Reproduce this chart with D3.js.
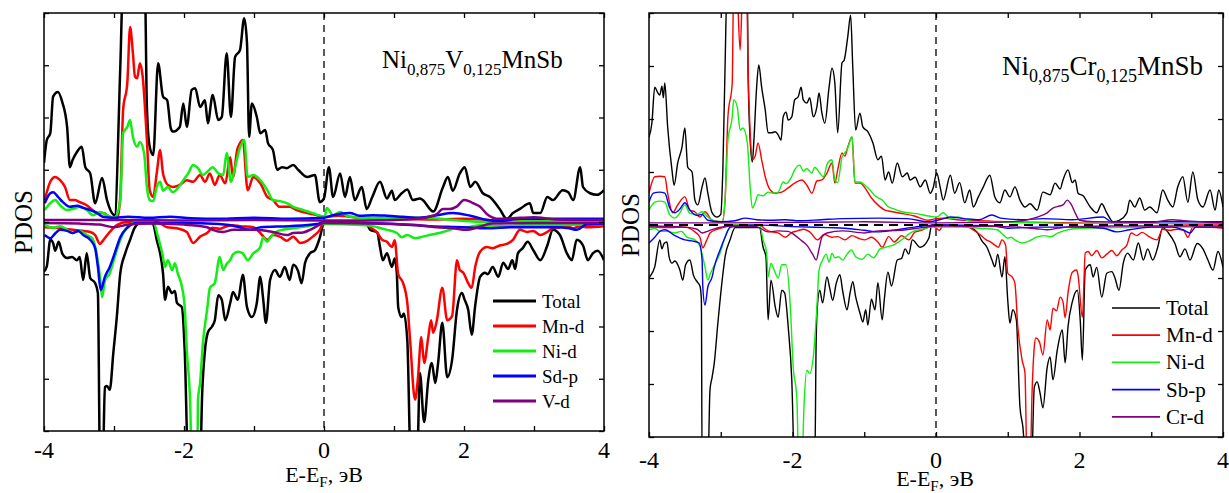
<!DOCTYPE html>
<html>
<head>
<meta charset="utf-8">
<script src="https://cdn.jsdelivr.net/npm/d3@7"></script>
<style>
body { margin: 0; background: #fff; }
text { font-family: "Liberation Serif", "Times New Roman", serif; fill: #000; }
</style>
</head>
<body>
<div id="chart-area"></div>
<script>
/*
*    PDOS of Ni0.875V0.125MnSb and Ni0.875Cr0.125MnSb
*/
// legend names / colours
var namesLeft = ["Total", "Mn-d", "Ni-d", "Sd-p", "V-d"]
var namesRight = ["Total", "Mn-d", "Ni-d", "Sb-p", "Cr-d"]
var colors = ["#000000", "#ff0000", "#11ee11", "#0000ff", "#800080"]
var xMajor = [-4, -2, 0, 2, 4]
var xAll = [-4, -3, -2, -1, 0, 1, 2, 3, 4]
var yAll = [-4, -3, -2, -1, 0, 1, 2, 3, 4]

// ---- left panel, [E, PDOS] ----
var lTotUp = [[-4.00,1.13],[-3.96,1.57],[-3.91,1.70],[-3.87,2.40],[-3.80,2.49],[-3.74,2.30],[-3.67,1.82],[-3.63,1.05],[-3.59,1.19],[-3.53,1.34],[-3.46,1.44],[-3.41,1.05],[-3.34,0.93],[-3.27,0.36],[-3.17,0.84],[-3.10,0.42],[-2.99,0.13],[-2.91,2.97],[-2.87,4.6],[-2.56,4.6],[-2.53,2.2],[-2.49,1.44],[-2.44,1.28],[-2.37,3.04],[-2.30,2.4],[-2.24,2.33],[-2.19,1.8],[-2.16,1.73],[-2.06,1.82],[-2.01,2.27],[-1.96,1.82],[-1.89,2.53],[-1.84,2.56],[-1.77,2.2],[-1.70,2.33],[-1.66,1.89],[-1.59,2.43],[-1.51,1.95],[-1.46,2.01],[-1.39,3.23],[-1.33,2.01],[-1.27,3.16],[-1.20,3.29],[-1.14,3.9],[-1.10,3.42],[-1.07,1.63],[-1.03,2.27],[-0.96,2.01],[-0.91,1.70],[-0.84,1.76],[-0.80,1.51],[-0.73,1.38],[-0.67,1.0],[-0.60,1.05],[-0.53,1.03],[-0.44,1.09],[-0.37,1.0],[-0.24,0.86],[-0.13,0.9],[-0.06,0.38],[0.00,0.45],[0.07,1.05],[0.13,0.48],[0.23,0.93],[0.30,0.48],[0.37,0.86],[0.44,0.42],[0.54,0.67],[0.61,0.25],[0.69,0.48],[0.80,0.77],[0.90,0.45],[0.97,0.6],[1.01,0.42],[1.11,0.55],[1.19,0.62],[1.27,0.42],[1.37,0.45],[1.41,0.42],[1.56,0.2],[1.70,0.67],[1.77,0.86],[1.84,0.6],[1.94,0.93],[2.01,1.05],[2.09,0.67],[2.16,0.77],[2.27,0.55],[2.37,0.48],[2.51,0.25],[2.61,0.06],[2.70,0.17],[2.80,0.25],[2.94,0.36],[2.99,0.17],[3.09,0.17],[3.19,0.48],[3.27,0.42],[3.41,0.61],[3.49,0.57],[3.56,0.42],[3.66,1.05],[3.70,0.67],[3.80,0.55],[3.90,0.52],[4.00,0.61]]
var lTotDn = [[-4.00,-0.95],[-3.96,-0.85],[-3.91,-0.34],[-3.87,-0.4],[-3.84,-0.55],[-3.79,-0.38],[-3.74,-0.6],[-3.67,-0.69],[-3.60,-0.67],[-3.53,-0.73],[-3.49,-0.67],[-3.44,-1.11],[-3.39,-0.6],[-3.34,-1.07],[-3.27,-1.17],[-3.23,-1.36],[-3.20,-4.6],[-3.16,-4.6],[-3.13,-3.16],[-3.10,-3.14],[-3.06,-3.21],[-3.01,-2.51],[-2.96,-1.82],[-2.91,-0.98],[-2.84,-0.6],[-2.77,-0.34],[-2.70,-0.1],[-2.62,-0.02],[-2.45,-0.02],[-2.39,-0.34],[-2.30,-0.98],[-2.27,-1.49],[-2.23,-1.24],[-2.17,-1.36],[-2.13,-1.32],[-2.10,-1.55],[-2.03,-1.63],[-1.99,-2.45],[-1.94,-4.6],[-1.77,-4.6],[-1.74,-3.27],[-1.70,-2.45],[-1.66,-2.12],[-1.60,-2.0],[-1.56,-1.88],[-1.51,-1.4],[-1.46,-1.49],[-1.41,-1.88],[-1.34,-1.55],[-1.30,-1.34],[-1.23,-1.49],[-1.16,-1.01],[-1.10,-1.63],[-1.03,-1.82],[-0.96,-1.55],[-0.91,-1.05],[-0.87,-1.46],[-0.83,-1.93],[-0.77,-1.11],[-0.70,-0.92],[-0.63,-1.05],[-0.56,-0.86],[-0.49,-1.11],[-0.44,-0.82],[-0.37,-0.94],[-0.32,-1.17],[-0.27,-0.78],[-0.20,-0.6],[-0.13,-0.54],[-0.06,-0.3],[0.00,-0.02],[0.60,-0.02],[0.66,-0.15],[0.76,-0.2],[0.80,-0.48],[0.84,-0.73],[0.90,-0.6],[0.97,-0.86],[1.01,-0.7],[1.04,-0.98],[1.06,-1.63],[1.11,-1.82],[1.14,-1.75],[1.19,-2.26],[1.24,-4.6],[1.33,-4.6],[1.37,-2.89],[1.43,-3.83],[1.49,-3.02],[1.54,-2.7],[1.59,-3.08],[1.63,-2.7],[1.69,-1.93],[1.76,-2.97],[1.83,-2.64],[1.90,-1.68],[1.97,-1.36],[2.01,-1.49],[2.06,-1.68],[2.11,-2.16],[2.16,-1.6],[2.23,-1.05],[2.30,-0.97],[2.34,-1.0],[2.41,-0.86],[2.49,-1.05],[2.56,-0.78],[2.63,-0.9],[2.69,-0.73],[2.73,-0.9],[2.77,-0.6],[2.84,-0.5],[2.91,-0.38],[2.99,-0.54],[3.09,-0.73],[3.19,-0.45],[3.27,-0.15],[3.37,-0.25],[3.47,-0.6],[3.54,-0.73],[3.61,-0.34],[3.70,-0.45],[3.77,-0.73],[3.84,-0.6],[3.91,-0.55],[4.00,-0.73]]
var lMnUp = [[-3.99,0.42],[-3.91,0.77],[-3.84,0.86],[-3.77,0.8],[-3.70,0.67],[-3.63,0.42],[-3.56,0.42],[-3.49,0.38],[-3.39,0.32],[-3.31,0.23],[-3.24,0.17],[-3.16,0.17],[-3.06,0.1],[-2.96,0.04],[-2.91,0.48],[-2.87,2.14],[-2.81,2.66],[-2.77,3.73],[-2.73,3.23],[-2.70,2.78],[-2.67,2.75],[-2.63,3.04],[-2.59,2.78],[-2.53,1.57],[-2.49,0.61],[-2.44,0.48],[-2.39,0.93],[-2.34,1.38],[-2.30,0.93],[-2.23,0.71],[-2.16,0.67],[-2.06,0.71],[-1.96,0.8],[-1.87,0.77],[-1.77,0.9],[-1.70,0.77],[-1.63,0.93],[-1.56,0.71],[-1.49,0.9],[-1.41,0.74],[-1.34,1.24],[-1.30,0.86],[-1.24,1.38],[-1.20,1.51],[-1.16,1.57],[-1.09,0.61],[-1.01,0.86],[-0.91,0.74],[-0.81,0.48],[-0.73,0.42],[-0.63,0.29],[-0.49,0.29],[-0.39,0.23],[-0.24,0.17],[-0.10,0.13],[0.01,0.1],[0.20,0.12],[0.50,0.08],[1.00,0.06],[1.50,0.05],[2.00,0.06],[2.50,0.03],[3.00,0.02],[3.50,0.0],[4.00,-0.02]]
var lMnDn = [[-3.99,-0.1],[-3.77,-0.12],[-3.59,-0.15],[-3.34,-0.19],[-3.27,-0.25],[-3.20,-0.42],[-3.16,-0.36],[-3.06,-0.19],[-2.96,-0.06],[-2.81,0.0],[-2.39,0.0],[-2.24,-0.1],[-2.10,-0.12],[-1.96,-0.19],[-1.87,-0.4],[-1.77,-0.28],[-1.67,-0.21],[-1.59,-0.11],[-1.49,-0.13],[-1.39,-0.08],[-1.30,-0.06],[-1.20,-0.08],[-1.01,-0.1],[-0.91,-0.21],[-0.81,-0.34],[-0.73,-0.25],[-0.63,-0.28],[-0.53,-0.36],[-0.44,-0.28],[-0.34,-0.4],[-0.24,-0.36],[-0.16,-0.28],[-0.06,-0.15],[0.00,0.0],[0.60,-0.02],[0.66,-0.1],[0.76,-0.2],[0.83,-0.34],[0.90,-0.38],[0.97,-0.48],[1.01,-0.35],[1.06,-1.0],[1.13,-1.17],[1.19,-1.55],[1.23,-2.26],[1.30,-3.4],[1.34,-3.02],[1.39,-2.2],[1.43,-2.7],[1.49,-2.2],[1.53,-1.88],[1.56,-2.12],[1.61,-1.9],[1.69,-1.26],[1.76,-1.88],[1.83,-1.8],[1.90,-0.73],[1.94,-0.92],[1.99,-0.97],[2.06,-1.17],[2.11,-1.26],[2.16,-0.86],[2.23,-0.57],[2.33,-0.48],[2.41,-0.5],[2.51,-0.45],[2.61,-0.42],[2.70,-0.34],[2.80,-0.15],[2.90,-0.19],[2.99,-0.17],[3.09,-0.25],[3.19,-0.19],[3.27,-0.12],[3.37,-0.1],[3.47,-0.08],[3.56,-0.12],[3.66,-0.08],[3.76,-0.1],[4.00,-0.08]]
var lNiUp = [[-3.99,0.23],[-3.91,0.36],[-3.84,0.42],[-3.77,0.32],[-3.67,0.23],[-3.59,0.25],[-3.49,0.29],[-3.39,0.23],[-3.30,0.13],[-3.20,0.19],[-3.10,0.13],[-2.99,0.08],[-2.91,0.42],[-2.87,1.7],[-2.81,1.82],[-2.77,1.95],[-2.73,1.63],[-2.67,1.44],[-2.63,1.53],[-2.57,1.32],[-2.53,0.67],[-2.49,0.42],[-2.44,0.4],[-2.39,0.67],[-2.34,0.77],[-2.30,0.6],[-2.23,0.67],[-2.16,0.57],[-2.06,0.7],[-2.01,0.8],[-1.94,0.93],[-1.87,1.09],[-1.80,1.03],[-1.73,0.9],[-1.66,0.97],[-1.59,1.05],[-1.51,0.93],[-1.44,0.9],[-1.39,1.32],[-1.33,0.77],[-1.27,1.05],[-1.21,1.38],[-1.14,1.57],[-1.09,0.86],[-1.01,0.9],[-0.91,0.8],[-0.81,0.61],[-0.73,0.42],[-0.63,0.4],[-0.53,0.36],[-0.44,0.29],[-0.30,0.23],[-0.16,0.17],[0.01,0.1],[0.04,0.27],[0.13,0.13],[0.23,0.19],[0.33,0.12],[0.51,0.08],[1.37,0.08],[2.33,0.0],[3.00,0.02],[4.00,0.02]]
var lNiDn = [[-3.99,-0.06],[-3.87,-0.11],[-3.77,-0.08],[-3.67,-0.15],[-3.59,-0.21],[-3.49,-0.17],[-3.39,-0.25],[-3.31,-0.31],[-3.24,-0.67],[-3.20,-1.05],[-3.17,-1.44],[-3.13,-1.12],[-3.06,-0.98],[-2.99,-0.67],[-2.91,-0.34],[-2.81,-0.1],[-2.67,0.0],[-2.44,0.0],[-2.37,-0.29],[-2.31,-0.6],[-2.27,-0.86],[-2.23,-0.73],[-2.17,-0.92],[-2.13,-0.79],[-2.09,-0.98],[-2.03,-1.24],[-1.99,-1.63],[-1.96,-2.45],[-1.91,-3.54],[-1.89,-4.6],[-1.81,-4.6],[-1.80,-3.4],[-1.77,-3.08],[-1.73,-2.32],[-1.67,-1.68],[-1.63,-1.26],[-1.56,-1.17],[-1.49,-0.67],[-1.44,-0.92],[-1.39,-0.8],[-1.34,-0.73],[-1.30,-0.62],[-1.23,-0.57],[-1.16,-0.6],[-1.09,-0.73],[-1.01,-0.6],[-0.91,-0.48],[-0.87,-0.29],[-0.81,-0.38],[-0.77,-0.3],[-0.67,-0.18],[-0.59,-0.15],[-0.44,-0.12],[-0.24,-0.08],[-0.06,-0.04],[0.61,-0.06],[0.76,-0.1],[0.90,-0.15],[1.04,-0.21],[1.11,-0.29],[1.19,-0.25],[1.30,-0.31],[1.41,-0.28],[1.51,-0.25],[1.61,-0.22],[1.70,-0.19],[1.80,-0.15],[1.90,-0.1],[2.04,-0.1],[2.23,-0.06],[2.51,-0.08],[2.80,-0.06],[4.00,-0.05]]
var lSbUp = [[-3.99,0.36],[-3.91,0.55],[-3.87,0.57],[-3.80,0.48],[-3.73,0.38],[-3.63,0.29],[-3.53,0.31],[-3.44,0.27],[-3.34,0.23],[-3.24,0.17],[-3.16,0.1],[-3.01,0.08],[-2.80,0.1],[-2.50,0.08],[-2.20,0.1],[-1.90,0.07],[-1.50,0.06],[-1.00,0.08],[-0.50,0.06],[0.00,0.08],[0.13,0.13],[0.37,0.17],[0.51,0.12],[0.70,0.13],[0.90,0.12],[1.13,0.1],[1.37,0.08],[1.61,0.13],[1.84,0.17],[2.09,0.12],[2.33,0.04],[2.51,0.02],[2.80,0.06],[3.27,0.06],[3.76,0.06],[4.00,0.06]]
var lSbDn = [[-3.99,-0.25],[-3.91,-0.31],[-3.84,-0.22],[-3.77,-0.15],[-3.67,-0.17],[-3.59,-0.21],[-3.51,-0.17],[-3.44,-0.25],[-3.34,-0.34],[-3.27,-0.5],[-3.23,-0.86],[-3.19,-1.3],[-3.13,-1.05],[-3.06,-0.86],[-2.99,-0.6],[-2.91,-0.29],[-2.81,-0.11],[-2.67,-0.02],[-2.00,-0.02],[-1.50,-0.04],[-1.20,-0.1],[-1.06,-0.15],[-0.90,-0.1],[-0.50,-0.08],[-0.10,-0.04],[0.00,0.0],[0.60,-0.02],[1.00,-0.04],[1.50,-0.08],[2.00,-0.1],[2.33,-0.12],[2.70,-0.1],[3.00,-0.1],[3.30,-0.1],[3.50,-0.12],[3.61,-0.15],[3.75,-0.05],[4.00,-0.04]]
var lVUp = [[-4.00,0.04],[-3.00,0.04],[-2.00,0.03],[-1.00,0.04],[0.00,0.03],[0.60,0.03],[1.20,0.05],[1.50,0.1],[1.61,0.15],[1.70,0.25],[1.80,0.25],[1.90,0.3],[2.00,0.42],[2.07,0.4],[2.13,0.36],[2.23,0.29],[2.33,0.15],[2.50,0.06],[2.80,0.08],[3.00,0.09],[3.30,0.05],[4.00,0.04]]
var lVDn = [[-4.00,-0.02],[-3.50,-0.03],[-3.20,-0.05],[-3.00,-0.1],[-2.80,-0.05],[-2.50,-0.03],[-2.00,-0.05],[-1.67,-0.1],[-1.59,-0.15],[-1.44,-0.19],[-1.30,-0.15],[-1.00,-0.15],[-0.73,-0.19],[-0.53,-0.25],[-0.44,-0.21],[-0.30,-0.2],[-0.20,-0.15],[-0.10,-0.08],[0.00,-0.02],[1.00,-0.04],[1.37,-0.06],[1.61,-0.1],[1.84,-0.12],[2.04,-0.15],[2.20,-0.1],[2.40,-0.03],[3.00,-0.02],[4.00,-0.02]]

// ---- right panel, [E, PDOS] ----
var rTotUp = [[-4.00,1.66],[-3.96,1.92],[-3.92,2.6],[-3.88,2.5],[-3.85,2.45],[-3.82,2.62],[-3.80,2.4],[-3.78,2.68],[-3.74,1.85],[-3.68,1.04],[-3.65,0.75],[-3.60,1.17],[-3.54,1.47],[-3.50,1.83],[-3.46,1.09],[-3.40,1.0],[-3.36,0.47],[-3.32,0.38],[-3.26,0.72],[-3.22,0.89],[-3.18,0.6],[-3.12,0.23],[-3.05,0.15],[-3.00,0.2],[-2.97,1.09],[-2.94,2.98],[-2.91,4.6],[-2.63,4.6],[-2.62,2.98],[-2.59,1.6],[-2.56,1.19],[-2.54,1.55],[-2.50,2.6],[-2.47,3.02],[-2.43,2.6],[-2.38,2.17],[-2.34,1.74],[-2.29,1.74],[-2.24,1.76],[-2.20,1.7],[-2.16,1.6],[-2.13,2.04],[-2.09,2.13],[-2.06,1.98],[-2.01,2.04],[-1.97,2.36],[-1.92,2.42],[-1.88,2.6],[-1.85,2.36],[-1.80,2.3],[-1.76,2.4],[-1.71,2.04],[-1.66,2.23],[-1.63,2.49],[-1.59,2.11],[-1.55,1.92],[-1.49,2.6],[-1.45,2.96],[-1.41,2.68],[-1.37,1.74],[-1.31,3.06],[-1.28,3.11],[-1.23,3.55],[-1.19,3.96],[-1.16,2.98],[-1.12,1.79],[-1.06,2.11],[-1.02,1.85],[-0.95,1.76],[-0.88,1.55],[-0.81,1.23],[-0.76,1.3],[-0.71,0.85],[-0.66,1.0],[-0.61,0.79],[-0.54,1.17],[-0.47,0.91],[-0.40,0.98],[-0.36,0.85],[-0.29,0.9],[-0.22,0.72],[-0.15,0.85],[-0.08,0.6],[-0.04,0.7],[0.01,0.98],[0.06,0.7],[0.10,0.47],[0.20,0.94],[0.26,0.6],[0.33,0.8],[0.40,0.42],[0.47,0.66],[0.52,0.34],[0.59,0.53],[0.66,0.72],[0.75,0.94],[0.82,0.53],[0.89,0.42],[0.96,0.66],[1.03,0.53],[1.10,0.72],[1.17,0.47],[1.24,0.34],[1.31,0.4],[1.41,0.28],[1.49,0.62],[1.59,0.57],[1.66,0.79],[1.73,0.68],[1.77,0.85],[1.84,1.04],[1.90,0.8],[1.94,0.85],[1.98,0.6],[2.05,0.55],[2.15,0.34],[2.24,0.23],[2.31,0.4],[2.38,0.23],[2.47,0.06],[2.56,0.09],[2.66,0.23],[2.70,0.47],[2.77,0.34],[2.84,0.51],[2.91,0.28],[2.98,0.34],[3.08,0.23],[3.16,0.66],[3.23,0.47],[3.30,0.34],[3.37,0.72],[3.44,0.91],[3.51,0.43],[3.58,1.0],[3.65,0.47],[3.72,0.34],[3.82,0.66],[3.89,0.28],[3.94,0.66],[4.00,0.34]]
var rTotDn = [[-4.00,-1.0],[-3.99,-0.98],[-3.92,-0.79],[-3.85,-0.28],[-3.82,-0.45],[-3.79,-0.35],[-3.75,-0.32],[-3.72,-0.6],[-3.68,-0.72],[-3.64,-0.68],[-3.57,-0.85],[-3.53,-1.04],[-3.49,-0.75],[-3.43,-0.66],[-3.38,-0.95],[-3.33,-1.07],[-3.29,-1.15],[-3.27,-1.4],[-3.26,-4.6],[-3.18,-4.6],[-3.15,-3.11],[-3.12,-2.87],[-3.09,-2.6],[-3.04,-1.85],[-2.98,-1.04],[-2.94,-0.6],[-2.87,-0.28],[-2.80,-0.05],[-2.46,-0.05],[-2.41,-0.42],[-2.37,-0.6],[-2.34,-1.79],[-2.30,-1.04],[-2.24,-1.55],[-2.20,-1.74],[-2.15,-1.23],[-2.11,-1.28],[-2.06,-1.92],[-2.01,-2.92],[-1.97,-4.6],[-1.69,-4.6],[-1.67,-2.17],[-1.65,-1.47],[-1.62,-1.23],[-1.58,-1.47],[-1.52,-0.98],[-1.48,-1.2],[-1.44,-1.42],[-1.39,-1.1],[-1.34,-0.94],[-1.30,-1.25],[-1.24,-1.6],[-1.20,-1.3],[-1.16,-1.07],[-1.12,-1.35],[-1.06,-1.66],[-1.02,-1.83],[-0.98,-1.6],[-0.95,-1.89],[-0.90,-1.4],[-0.85,-1.6],[-0.81,-1.09],[-0.75,-1.79],[-0.72,-1.4],[-0.67,-0.89],[-0.62,-1.15],[-0.54,-0.66],[-0.48,-0.63],[-0.43,-0.45],[-0.38,-0.55],[-0.33,-0.28],[-0.22,-0.42],[-0.10,-0.25],[-0.06,0.0],[0.40,-0.02],[0.57,-0.13],[0.64,-0.3],[0.71,-0.42],[0.78,-0.66],[0.82,-0.79],[0.86,-0.55],[0.92,-0.98],[0.96,-0.6],[1.00,-1.42],[1.03,-1.85],[1.07,-1.6],[1.12,-1.79],[1.17,-3.43],[1.21,-3.8],[1.26,-4.6],[1.33,-4.6],[1.37,-3.06],[1.41,-2.96],[1.45,-3.17],[1.49,-3.45],[1.55,-2.68],[1.59,-2.49],[1.63,-2.92],[1.69,-2.36],[1.76,-1.98],[1.80,-2.6],[1.84,-1.92],[1.90,-1.45],[1.97,-1.23],[2.01,-1.79],[2.04,-2.55],[2.08,-0.85],[2.15,-0.75],[2.19,-0.98],[2.24,-0.8],[2.31,-1.36],[2.38,-0.91],[2.45,-0.88],[2.49,-0.98],[2.55,-1.23],[2.61,-0.72],[2.67,-0.53],[2.75,-0.66],[2.82,-0.34],[2.89,-0.66],[2.95,-0.45],[3.02,-0.66],[3.09,-0.42],[3.16,-0.05],[3.24,-0.15],[3.33,-0.35],[3.40,-0.6],[3.47,-0.45],[3.54,-0.66],[3.64,-0.35],[3.72,-0.45],[3.79,-0.66],[3.86,-0.85],[3.93,-0.5],[4.00,-0.8]]
var rMnUp = [[-4.00,0.6],[-3.92,0.91],[-3.85,0.92],[-3.78,0.91],[-3.74,0.6],[-3.67,0.23],[-3.60,0.38],[-3.50,0.53],[-3.43,0.28],[-3.36,0.25],[-3.29,0.15],[-3.22,0.25],[-3.12,0.09],[-2.98,0.06],[-2.94,0.47],[-2.90,2.04],[-2.84,2.68],[-2.82,4.6],[-2.78,4.6],[-2.73,3.3],[-2.69,4.6],[-2.64,4.6],[-2.62,2.98],[-2.59,1.74],[-2.56,1.23],[-2.52,1.3],[-2.48,1.55],[-2.43,1.23],[-2.38,0.91],[-2.31,0.66],[-2.24,0.6],[-2.15,0.62],[-2.06,0.7],[-1.97,0.79],[-1.87,0.85],[-1.80,0.75],[-1.73,0.6],[-1.66,0.83],[-1.59,0.85],[-1.52,0.98],[-1.45,1.17],[-1.41,0.79],[-1.37,1.04],[-1.31,1.36],[-1.27,1.3],[-1.23,1.47],[-1.17,1.66],[-1.13,0.79],[-1.06,0.79],[-0.99,0.7],[-0.90,0.51],[-0.81,0.38],[-0.71,0.28],[-0.64,0.26],[-0.53,0.23],[-0.30,0.17],[-0.11,0.09],[0.00,0.12],[0.10,0.13],[0.30,0.1],[0.60,0.08],[1.00,0.06],[1.50,0.05],[2.00,0.04],[2.50,0.03],[3.00,0.03],[3.50,0.02],[4.00,0.02]]
var rMnDn = [[-4.00,-0.04],[-3.70,-0.05],[-3.50,-0.04],[-3.36,-0.13],[-3.29,-0.23],[-3.25,-0.43],[-3.20,-0.3],[-3.15,-0.15],[-3.05,-0.08],[-2.95,-0.04],[-2.85,0.0],[-2.46,0.0],[-2.38,-0.08],[-2.29,-0.13],[-2.20,-0.15],[-2.10,-0.23],[-2.02,-0.15],[-1.93,-0.11],[-1.84,-0.08],[-1.76,-0.13],[-1.65,-0.28],[-1.56,-0.18],[-1.45,-0.23],[-1.37,-0.22],[-1.27,-0.28],[-1.17,-0.2],[-1.08,-0.25],[-0.99,-0.28],[-0.90,-0.23],[-0.81,-0.32],[-0.75,-0.42],[-0.66,-0.22],[-0.58,-0.32],[-0.48,-0.2],[-0.38,-0.28],[-0.29,-0.13],[-0.20,-0.1],[-0.11,-0.04],[-0.05,0.0],[0.00,-0.06],[0.05,-0.1],[0.10,0.0],[0.44,-0.04],[0.53,-0.1],[0.62,-0.19],[0.70,-0.28],[0.76,-0.32],[0.82,-0.38],[0.87,-0.42],[0.92,-0.28],[0.97,-0.38],[1.00,-0.91],[1.06,-0.98],[1.10,-1.1],[1.14,-1.92],[1.20,-2.55],[1.24,-2.79],[1.27,-4.6],[1.31,-4.6],[1.34,-3.11],[1.37,-2.3],[1.39,-2.13],[1.44,-2.2],[1.49,-2.45],[1.55,-1.79],[1.59,-1.98],[1.63,-1.57],[1.68,-1.62],[1.73,-1.36],[1.77,-1.45],[1.80,-1.75],[1.84,-1.28],[1.90,-0.89],[1.96,-0.85],[1.98,-0.95],[2.04,-1.74],[2.08,-0.53],[2.12,-0.5],[2.17,-0.58],[2.24,-0.48],[2.31,-0.62],[2.38,-0.55],[2.45,-0.48],[2.52,-0.58],[2.59,-0.47],[2.66,-0.38],[2.72,-0.15],[2.80,-0.2],[2.87,-0.14],[2.98,-0.23],[3.08,-0.28],[3.16,-0.08],[3.26,-0.1],[3.36,-0.08],[3.45,-0.1],[3.51,-0.23],[3.58,-0.04],[3.70,-0.04],[4.00,-0.06]]
var rNiUp = [[-4.00,0.28],[-3.92,0.43],[-3.85,0.45],[-3.78,0.43],[-3.71,0.19],[-3.64,0.13],[-3.57,0.23],[-3.50,0.38],[-3.43,0.22],[-3.33,0.2],[-3.26,0.25],[-3.18,0.15],[-3.10,0.08],[-2.98,0.06],[-2.94,0.47],[-2.90,1.6],[-2.84,2.04],[-2.82,2.36],[-2.77,2.23],[-2.73,1.79],[-2.69,1.83],[-2.63,1.55],[-2.59,0.72],[-2.56,0.32],[-2.52,0.42],[-2.48,0.57],[-2.41,0.55],[-2.34,0.62],[-2.27,0.6],[-2.20,0.62],[-2.13,0.81],[-2.09,0.78],[-2.02,0.89],[-1.97,1.04],[-1.90,1.13],[-1.85,1.02],[-1.80,1.06],[-1.73,0.98],[-1.69,1.09],[-1.63,1.0],[-1.57,0.91],[-1.51,1.17],[-1.45,1.23],[-1.41,0.85],[-1.37,0.8],[-1.31,1.28],[-1.24,1.42],[-1.17,1.66],[-1.13,0.81],[-1.06,0.81],[-0.99,0.75],[-0.92,0.66],[-0.85,0.55],[-0.75,0.47],[-0.67,0.35],[-0.58,0.3],[-0.50,0.26],[-0.39,0.23],[-0.25,0.21],[-0.10,0.17],[0.01,0.15],[0.10,0.23],[0.20,0.12],[0.30,0.15],[0.45,0.08],[0.60,0.06],[1.00,0.05],[1.50,0.04],[2.00,0.03],[3.00,0.03],[4.00,0.03]]
var rNiDn = [[-4.00,-0.09],[-3.92,-0.06],[-3.85,-0.12],[-3.75,-0.12],[-3.64,-0.15],[-3.55,-0.12],[-3.47,-0.23],[-3.36,-0.28],[-3.29,-0.4],[-3.22,-0.79],[-3.18,-1.04],[-3.14,-0.9],[-3.10,-0.79],[-3.01,-0.53],[-2.94,-0.23],[-2.87,-0.05],[-2.80,0.0],[-2.46,0.0],[-2.41,-0.28],[-2.36,-0.53],[-2.34,-0.98],[-2.30,-0.72],[-2.27,-0.8],[-2.20,-1.0],[-2.15,-0.75],[-2.09,-0.75],[-2.03,-1.55],[-1.99,-2.68],[-1.94,-3.25],[-1.91,-4.6],[-1.87,-4.6],[-1.84,-3.43],[-1.80,-2.74],[-1.76,-2.8],[-1.71,-2.49],[-1.66,-1.55],[-1.63,-0.85],[-1.58,-0.66],[-1.53,-0.55],[-1.49,-0.7],[-1.45,-0.53],[-1.41,-0.62],[-1.36,-0.6],[-1.30,-0.66],[-1.24,-0.55],[-1.18,-0.47],[-1.12,-0.6],[-1.03,-0.65],[-0.95,-0.55],[-0.87,-0.62],[-0.78,-0.45],[-0.70,-0.42],[-0.60,-0.38],[-0.50,-0.3],[-0.33,-0.13],[-0.20,-0.08],[-0.05,-0.04],[0.40,-0.04],[0.60,-0.06],[0.85,-0.09],[0.95,-0.2],[1.00,-0.25],[1.05,-0.23],[1.10,-0.28],[1.20,-0.34],[1.30,-0.3],[1.40,-0.23],[1.50,-0.2],[1.60,-0.22],[1.70,-0.15],[1.80,-0.1],[2.00,-0.06],[2.50,-0.05],[3.00,-0.04],[4.00,-0.04]]
var rSbUp = [[-4.00,0.43],[-3.94,0.6],[-3.85,0.62],[-3.78,0.6],[-3.71,0.32],[-3.64,0.23],[-3.57,0.3],[-3.50,0.42],[-3.43,0.28],[-3.33,0.18],[-3.26,0.2],[-3.18,0.09],[-3.00,0.06],[-2.80,0.08],[-2.66,0.13],[-2.50,0.1],[-2.30,0.09],[-2.10,0.1],[-1.90,0.08],[-1.60,0.1],[-1.30,0.12],[-0.80,0.13],[-0.40,0.12],[-0.10,0.06],[0.05,0.1],[0.20,0.15],[0.40,0.12],[0.60,0.1],[0.78,0.19],[0.90,0.13],[1.20,0.1],[1.50,0.12],[1.90,0.1],[2.33,0.15],[2.45,0.06],[2.80,0.06],[3.20,0.06],[3.60,0.06],[4.00,0.06]]
var rSbDn = [[-4.00,-0.34],[-3.92,-0.23],[-3.85,-0.12],[-3.78,-0.09],[-3.64,-0.2],[-3.50,-0.28],[-3.40,-0.3],[-3.30,-0.34],[-3.26,-0.66],[-3.25,-1.17],[-3.22,-1.51],[-3.18,-1.17],[-3.12,-0.98],[-3.09,-0.79],[-3.01,-0.47],[-2.94,-0.23],[-2.87,-0.04],[-2.50,0.0],[-2.00,-0.03],[-1.50,-0.05],[-1.27,-0.06],[-1.00,-0.1],[-0.81,-0.13],[-0.60,-0.1],[-0.30,-0.04],[0.00,0.0],[0.80,-0.02],[1.00,-0.06],[1.40,-0.04],[2.00,-0.04],[2.33,-0.06],[2.52,-0.13],[2.70,-0.09],[3.00,-0.04],[3.30,-0.04],[3.44,-0.09],[3.54,-0.15],[3.62,-0.04],[4.00,-0.04]]
var rCrUp = [[-4.00,0.04],[-3.00,0.04],[-2.00,0.05],[-1.00,0.06],[0.00,0.04],[0.80,0.05],[1.20,0.08],[1.41,0.15],[1.55,0.23],[1.63,0.32],[1.70,0.35],[1.77,0.38],[1.83,0.47],[1.88,0.4],[1.94,0.23],[2.00,0.09],[2.20,0.06],[3.00,0.05],[3.30,0.1],[3.45,0.08],[4.00,0.04]]
var rCrDn = [[-4.00,-0.02],[-3.50,-0.04],[-3.33,-0.08],[-3.26,-0.15],[-3.15,-0.1],[-3.00,-0.04],[-2.80,-0.02],[-2.50,-0.03],[-2.34,-0.13],[-2.20,-0.11],[-2.06,-0.12],[-1.96,-0.2],[-1.87,-0.3],[-1.80,-0.38],[-1.72,-0.55],[-1.67,-0.66],[-1.63,-0.45],[-1.59,-0.23],[-1.52,-0.15],[-1.30,-0.11],[-1.00,-0.15],[-0.80,-0.11],[-0.50,-0.1],[-0.20,-0.05],[0.00,-0.02],[1.00,-0.03],[1.40,-0.07],[1.55,-0.09],[1.70,-0.06],[1.90,-0.03],[2.50,-0.02],[4.00,-0.02]]

var svg = d3.select("#chart-area")
  .append("svg")
  .attr("width", 1229)
  .attr("height", 493)

var panels = [
  { id: "L", left: 44, right: 604, top: 13, bottom: 431, lw: 2.5, names: namesLeft,
    series: [[lTotUp, lTotDn], [lMnUp, lMnDn], [lNiUp, lNiDn], [lSbUp, lSbDn], [lVUp, lVDn]],
    title: ["Ni", "0,875", "V", "0,125", "MnSb"], titleX: 382, titleY: 68, titleSize: 25, subSize: 17,
    tickY: 458, labX: 324, labY: 482, pdosX: 32,
    legX: 493, legY: 301, legStep: 25, legLen: 43, legFont: 19, zeroDash: false },
  { id: "R", left: 649, right: 1223, top: 13, bottom: 437, lw: 1.4, names: namesRight,
    series: [[rTotUp, rTotDn], [rMnUp, rMnDn], [rNiUp, rNiDn], [rSbUp, rSbDn], [rCrUp, rCrDn]],
    title: ["Ni", "0,875", "Cr", "0,125", "MnSb"], titleX: 1002, titleY: 75, titleSize: 27, subSize: 18,
    tickY: 468, labX: 935, labY: 486, pdosX: 639,
    legX: 1112, legY: 308, legStep: 27.2, legLen: 48, legFont: 21, zeroDash: true }
]

panels.forEach(function(p) {
  var x = d3.scaleLinear().domain([-4, 4]).range([p.left, p.right])
  var y = d3.scaleLinear().domain([-4, 4]).range([p.bottom, p.top])
  var g = svg.append("g")

  g.append("clipPath").attr("id", "clip" + p.id)
    .append("rect")
    .attr("x", p.left).attr("y", p.top)
    .attr("width", p.right - p.left).attr("height", p.bottom - p.top)

  // Fermi level
  g.append("line")
    .attr("x1", x(0)).attr("x2", x(0))
    .attr("y1", p.top).attr("y2", p.bottom)
    .attr("stroke", "#000").attr("stroke-width", 1.3)
    .attr("stroke-dasharray", "7,5")

  var line = d3.line()
    .x(function(d) { return x(d[0]) })
    .y(function(d) { return y(d[1]) })
    .curve(d3.curveMonotoneX)

  var curves = g.append("g").attr("clip-path", "url(#clip" + p.id + ")")
  p.series.forEach(function(pair, i) {
    pair.forEach(function(arr) {
      var data = arr.slice().sort(function(a, b) { return a[0] - b[0] })
      curves.append("path")
        .datum(data)
        .attr("d", line)
        .attr("fill", "none")
        .attr("stroke", colors[i])
        .attr("stroke-width", p.lw)
        .attr("stroke-linejoin", "round")
    })
  })

  if (p.zeroDash) {
    g.append("line")
      .attr("x1", p.left).attr("x2", p.right)
      .attr("y1", y(0)).attr("y2", y(0))
      .attr("stroke", "#000").attr("stroke-width", 2)
      .attr("stroke-dasharray", "9,6")
  }

  // frame
  g.append("rect")
    .attr("x", p.left).attr("y", p.top)
    .attr("width", p.right - p.left).attr("height", p.bottom - p.top)
    .attr("fill", "none").attr("stroke", "#000").attr("stroke-width", 1.5)

  // inward ticks
  var bottomAxis = d3.axisBottom(x).tickValues(xAll).tickSize(-5).tickFormat("")
  var topAxis = d3.axisTop(x).tickValues(xAll).tickSize(-5).tickFormat("")
  var leftAxis = d3.axisLeft(y).tickValues(yAll).tickSize(-5).tickFormat("")
  var rightAxis = d3.axisRight(y).tickValues(yAll).tickSize(-5).tickFormat("")
  g.append("g").attr("transform", "translate(0," + p.bottom + ")").call(bottomAxis)
  g.append("g").attr("transform", "translate(0," + p.top + ")").call(topAxis)
  g.append("g").attr("transform", "translate(" + p.left + ",0)").call(leftAxis)
  g.append("g").attr("transform", "translate(" + p.right + ",0)").call(rightAxis)
  g.selectAll(".domain").remove()
  g.selectAll(".tick line").attr("stroke", "#000").attr("stroke-width", 1.3)

  g.selectAll(".xlab")
    .data(xMajor)
    .enter()
    .append("text")
      .attr("x", function(d) { return x(d) })
      .attr("y", p.tickY)
      .attr("font-size", "24px")
      .attr("text-anchor", "middle")
      .text(function(d) { return d })

  // x title
  var xt = g.append("text")
    .attr("x", p.labX).attr("y", p.labY)
    .attr("font-size", "22px")
    .attr("text-anchor", "middle")
  xt.append("tspan").text("E-E")
  xt.append("tspan").attr("font-size", "15px").attr("dy", 5).text("F")
  xt.append("tspan").attr("dy", -5).text(", эВ")

  // y title
  g.append("text")
    .attr("transform", "translate(" + p.pdosX + "," + ((p.top + p.bottom) / 2) + ") rotate(-90)")
    .attr("font-size", "25px")
    .attr("text-anchor", "middle")
    .text("PDOS")

  // compound
  var tt = g.append("text")
    .attr("x", p.titleX).attr("y", p.titleY)
    .attr("font-size", p.titleSize + "px")
  p.title.forEach(function(s, i) {
    var sub = i % 2 == 1
    tt.append("tspan")
      .attr("font-size", (sub ? p.subSize : p.titleSize) + "px")
      .attr("dy", i == 0 ? 0 : (sub ? 7 : -7))
      .text(s)
  })

  // legend
  var leg = g.selectAll(".leg")
    .data(p.names)
    .enter()
    .append("g")
      .attr("transform", function(d, i) { return "translate(" + p.legX + "," + (p.legY + i * p.legStep) + ")" })
  leg.append("line")
    .attr("x1", 0).attr("x2", p.legLen)
    .attr("stroke", function(d, i) { return colors[i] })
    .attr("stroke-width", p.lw + 0.3)
  leg.append("text")
    .attr("x", p.legLen + 6).attr("y", 7)
    .attr("font-size", p.legFont + "px")
    .text(function(d) { return d })
})
</script>
</body>
</html>
